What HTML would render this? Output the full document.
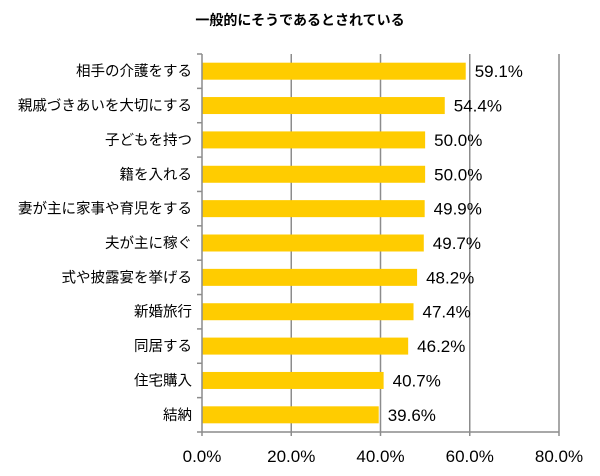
<!DOCTYPE html>
<html><head><meta charset="utf-8"><style>
body{margin:0;background:#fff;}
svg text{font-family:"Liberation Sans","Noto Sans CJK JP",sans-serif;fill:#000;}
</style></head><body>
<svg width="600" height="471" xmlns="http://www.w3.org/2000/svg">
<text x="300" y="25" text-anchor="middle" font-size="14" font-weight="bold">一般的にそうであるとされている</text>
<g id="grid"></g>
<g id="bars"></g>
<g id="axes"></g>
</svg>
<script>
const categories=["相手の介護をする","親戚づきあいを大切にする","子どもを持つ","籍を入れる","妻が主に家事や育児をする","夫が主に稼ぐ","式や披露宴を挙げる","新婚旅行","同居する","住宅購入","結納"];
const values=[59.1,54.4,50.0,50.0,49.9,49.7,48.2,47.4,46.2,40.7,39.6];
const ticks=[0,20,40,60,80];
const tickLabels=["0.0%","20.0%","40.0%","60.0%","80.0%"];
const NS="http://www.w3.org/2000/svg";
const x0=202,x1=559,y0=54,y1=432,maxV=80;
const xs=v=>x0+(v/maxV)*(x1-x0);
const band=(y1-y0)/categories.length;
const yc=i=>y0+band*(i+0.5);
function mk(p,tag,a){const e=document.createElementNS(NS,tag);for(const k in a)e.setAttribute(k,a[k]);p.appendChild(e);return e;}
const grid=document.getElementById('grid'),bars=document.getElementById('bars'),axes=document.getElementById('axes');
ticks.forEach((t,i)=>{
 if(t>0){const l=mk(grid,'line',{x1:xs(t),x2:xs(t),y1:y0,y2:y1,stroke:'#8c8c8c','stroke-width':1.5});
 
 }
 const tk=mk(axes,'line',{x1:xs(t),x2:xs(t),y1:y1,y2:y1+4,stroke:'#8c8c8c','stroke-width':1.5});
 
 
 const tx=mk(axes,'text',{x:xs(t),y:y1+30,'text-anchor':'middle','font-size':17});
 tx.textContent=tickLabels[i];
 
 
});
categories.forEach((c,i)=>{
 const r=mk(bars,'rect',{x:x0,y:yc(i)-8.5,width:xs(values[i])-x0,height:17,fill:'#ffcc00'});
 
 
 const v=mk(bars,'text',{x:xs(values[i])+9,y:yc(i)+6,'font-size':17});
 v.textContent=values[i].toFixed(1)+'%';
 
 
 const l=mk(axes,'text',{x:x0-10,y:yc(i)+5,'text-anchor':'end','font-size':14.5});
 l.textContent=c;
 
 
});
for(let i=0;i<=categories.length;i++){
 const t=mk(axes,'line',{x1:x0-5,x2:x0,y1:y0+band*i,y2:y0+band*i,stroke:'#8c8c8c','stroke-width':1.5});
 
 
}
const ya=mk(axes,'line',{x1:x0,x2:x0,y1:y0,y2:y1,stroke:'#8c8c8c','stroke-width':1.5});


const xa=mk(axes,'line',{x1:x0,x2:x1,y1:y1,y2:y1,stroke:'#8c8c8c','stroke-width':1.5});


</script>
</body></html>
